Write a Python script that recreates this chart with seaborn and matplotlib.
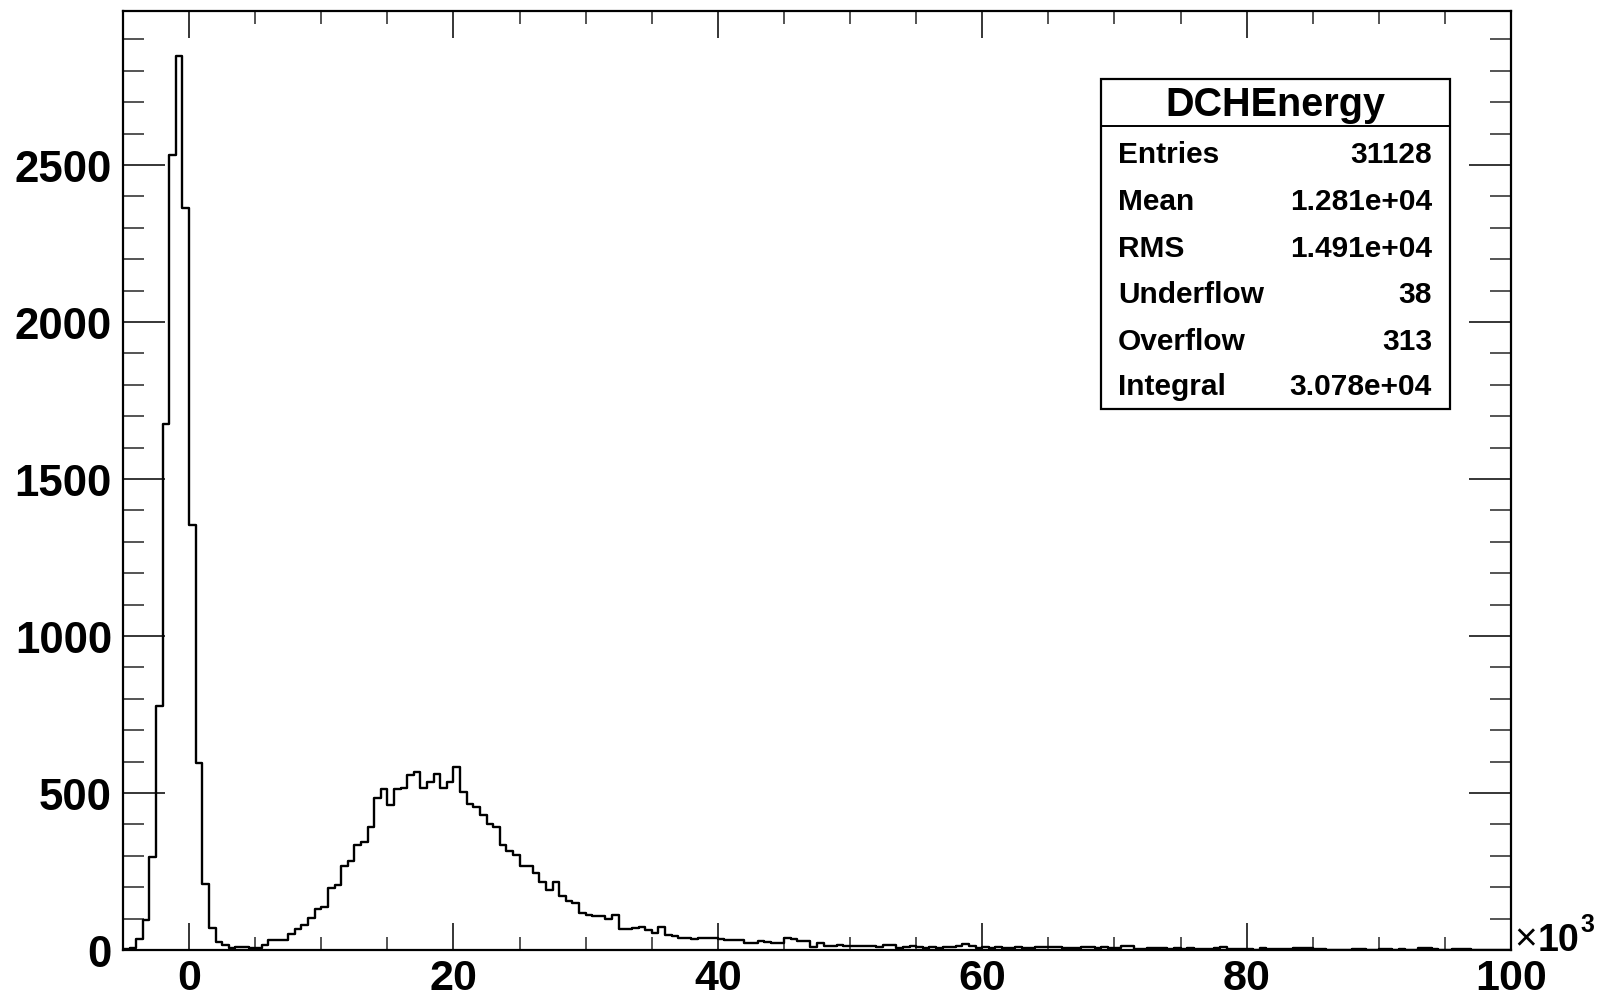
import numpy as np
import pandas as pd
import matplotlib
matplotlib.use("Agg")
import matplotlib.pyplot as plt
from matplotlib.patches import Rectangle
from matplotlib.lines import Line2D
from matplotlib.ticker import MultipleLocator, FuncFormatter
import seaborn as sns

# Histogram binning (units of 10^3)
x_min, x_max, n_bins = -5.0, 100.0, 210

# Bin contents, split by region of the spectrum
pedestal_counts = [2, 6, 35, 95, 296, 778, 1676, 2532, 2848, 2363, 1353, 594,
                   210, 69, 25, 16, 7, 11, 10, 6, 6]
signal_counts = [16, 31, 31, 33, 52, 67, 79, 103, 130, 137, 197, 208, 266, 283,
                 335, 343, 393, 483, 513, 462, 513, 515, 556, 567, 516, 536,
                 559, 515, 536, 583, 502, 465, 454, 430, 401, 393, 334, 314,
                 302, 266, 266, 245, 215, 191, 216, 172, 157, 149, 117, 113,
                 107, 107, 98, 113, 66, 66, 71, 72, 65, 55, 74, 47, 44, 39,
                 37, 36, 38, 38, 39, 35, 33, 32, 33, 21, 23, 28, 27, 22, 22]
tail_counts = [37, 34, 30, 30, 8, 22, 12, 12, 16, 13, 13, 12, 12, 12, 10, 17,
               17, 7, 8, 14, 10, 7, 10, 6, 10, 10, 14, 19, 14, 5, 10, 7, 10,
               7, 7, 10, 6, 6, 10, 10, 11, 8, 7, 6, 6, 10, 10, 6, 10, 6, 6,
               12, 12, 4, 4, 7, 7, 7, 4, 7, 4, 6, 4, 4, 4, 7, 10, 4, 4, 4, 3,
               1, 6, 4, 4, 3, 4, 7, 7, 6, 4, 4, 1, 0, 1, 1, 4, 4, 1, 1, 4, 4,
               1, 2, 1, 0, 6, 6, 4, 1, 1, 4, 4, 3, 0, 1, 0, 0, 0, 0]

# Statistics box contents
stats_title = "DCHEnergy"
stats_labels = ["Entries", "Mean", "RMS", "Underflow", "Overflow", "Integral"]
stats_values = ["31128", "1.281e+04", "1.491e+04", "38", "313", "3.078e+04"]

counts = np.array(pedestal_counts + signal_counts + tail_counts, dtype=float)
bin_width = (x_max - x_min) / n_bins
centers = x_min + bin_width * (np.arange(len(counts)) + 0.5)
df = pd.DataFrame({"energy": centers, "count": counts})

sns.set_theme(style="white")
plt.rcParams["font.family"] = ["Liberation Sans", "DejaVu Sans"]
plt.rcParams["font.weight"] = "bold"

W, H = 1610, 1003
fig = plt.figure(figsize=(W / 100, H / 100), dpi=100)
fig.patch.set_facecolor("white")
L, R, T, B = 123, 1511, 12, 951
ax = fig.add_axes([L / W, 1 - B / H, (R - L) / W, (B - T) / H])
ax.set_facecolor("white")

sns.histplot(data=df, x="energy", weights="count", binwidth=bin_width,
             binrange=(x_min, x_max), element="step", fill=False,
             color="black", linewidth=1.7, ax=ax)

ax.set_xlim(x_min, x_max)
ax.set_ylim(0, 1.05 * counts.max())
ax.set_xlabel("")
ax.set_ylabel("")

for s in ax.spines.values():
    s.set_visible(True)
    s.set_color("black")
    s.set_linewidth(1.6)

ax.xaxis.set_major_locator(MultipleLocator(20))
ax.xaxis.set_minor_locator(MultipleLocator(5))
ax.yaxis.set_major_locator(MultipleLocator(500))
ax.yaxis.set_minor_locator(MultipleLocator(100))
ax.xaxis.set_major_formatter(FuncFormatter(lambda v, p: f"{v:.0f}"))
ax.yaxis.set_major_formatter(FuncFormatter(lambda v, p: f"{v:.0f}"))

ax.tick_params(axis="x", which="major", direction="in", length=19.5, width=1.1,
               top=True, bottom=True, pad=6, labelsize=31, colors="black")
ax.tick_params(axis="x", which="minor", direction="in", length=9.5, width=1.1,
               top=True, bottom=True)
ax.tick_params(axis="y", which="major", direction="in", length=30, width=1.1,
               left=True, right=True, pad=8, labelsize=31.5, colors="black")
ax.tick_params(axis="y", which="minor", direction="in", length=15, width=1.1,
               left=True, right=True)
for lab in ax.get_xticklabels() + ax.get_yticklabels():
    lab.set_fontweight("bold")


def fy(py):
    return 1 - py / H


# Axis exponent label
fig.text(1514 / W, fy(950), "\u00d7", fontsize=28, fontweight="normal",
         ha="left", va="baseline", color="black")
fig.text(1538 / W, fy(951), "10", fontsize=27, fontweight="bold",
         ha="left", va="baseline", color="black")
fig.text(1580 / W, fy(932), "3", fontsize=18, fontweight="bold",
         ha="left", va="baseline", color="black")

# Statistics box
bx0, bx1, by0, by1 = 1100.5, 1449.5, 80, 410
fig.patches.append(Rectangle((bx0 / W, fy(by1)), (bx1 - bx0) / W,
                             (by1 - by0) / H, transform=fig.transFigure,
                             facecolor="white", edgecolor="black",
                             linewidth=1.6, zorder=5))
fig.lines.append(Line2D([bx0 / W, bx1 / W], [fy(126.5), fy(126.5)],
                        transform=fig.transFigure, color="black",
                        linewidth=1.4, zorder=6))
fig.text((bx0 + bx1) / 2 / W, fy(105.5), stats_title, fontsize=28.5,
         fontweight="bold", ha="center", va="center", color="black", zorder=7)
row_y = [155.5, 202.5, 249, 295, 341.5, 387.5]
for lab, val, yy in zip(stats_labels, stats_values, row_y):
    fig.text(1118 / W, fy(yy), lab, fontsize=21.5, fontweight="bold",
             ha="left", va="center", color="black", zorder=7)
    fig.text(1432 / W, fy(yy), val, fontsize=21.5, fontweight="bold",
             ha="right", va="center", color="black", zorder=7)

fig.savefig("out.png", dpi=100, facecolor="white")
